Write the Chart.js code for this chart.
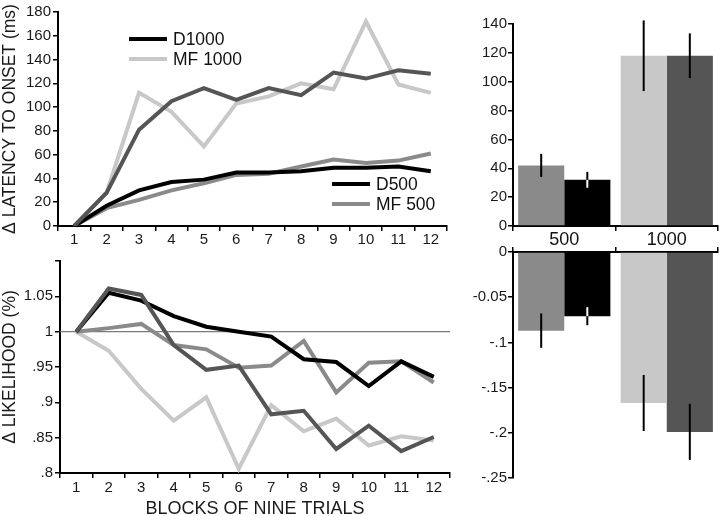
<!DOCTYPE html>
<html>
<head>
<meta charset="utf-8">
<script src="https://cdn.jsdelivr.net/npm/chart.js@4.4.0/dist/chart.umd.min.js"></script>
<style>
  html, body { margin: 0; padding: 0; background: #fff; }
  #wrap { position: relative; width: 720px; height: 516px; overflow: hidden; }
  canvas { position: absolute; }
</style>
</head>
<body>
<div id="wrap">
  <canvas id="latChart" width="460" height="250" style="left:0px;top:0px"></canvas>
  <canvas id="likeChart" width="460" height="266" style="left:0px;top:250px"></canvas>
  <canvas id="latBar" width="260" height="250" style="left:460px;top:0px"></canvas>
  <canvas id="likeBar" width="260" height="276" style="left:460px;top:240px"></canvas>
</div>
<script>
// blocks of nine trials
const blocks = ["1", "2", "3", "4", "5", "6", "7", "8", "9", "10", "11", "12"];

// delta latency to onset (ms)
const latD1000 = [0, 28, 81, 105, 116, 106, 116, 110, 129, 124, 131, 128];
const latMF1000 = [0, 28, 112, 96, 67, 103, 109, 120, 115, 172, 119, 112];
const latD500 = [0, 17, 30, 37, 39, 45, 45, 46, 49, 49, 50, 46];
const latMF500 = [0, 15, 22, 30, 36, 43, 44, 50, 56, 53, 55, 61];

// delta likelihood
const likeD1000 = [1, 1.061, 1.052, 0.981, 0.946, 0.952, 0.883, 0.888, 0.834, 0.867, 0.831, 0.851];
const likeMF1000 = [1, 0.973, 0.919, 0.874, 0.907, 0.806, 0.896, 0.859, 0.877, 0.839, 0.852, 0.846];
const likeD500 = [1, 1.055, 1.044, 1.022, 1.007, 1.0, 0.993, 0.961, 0.957, 0.923, 0.958, 0.936];
const likeMF500 = [1, 1.005, 1.011, 0.981, 0.975, 0.949, 0.952, 0.987, 0.914, 0.956, 0.958, 0.928];
const likeRef = 1;
const likeTicks = [".8", ".85", ".9", ".95", "1", "1.05", ""];

// bar summaries: groups 500 / 1000, first bar MF, second bar D
const groups = ["500", "1000"];
const latBarMF = [42, 118];
const latBarD = [32, 118];
const latErrMF = [8, 24.5];
const latErrD = [5.5, 15.5];
const likeBarMF = [-0.087, -0.167];
const likeBarD = [-0.071, -0.199];
const likeErrMF = [0.019, 0.031];
const likeErrD = [0.01, 0.031];
const likeBarTicks = ["-.25", "-.2", "-.15", "-.1", "-0.05", "0"];

const BLACK = "#000000", DARK = "#555555", MID = "#8a8a8a", LIGHT = "#c8c8c8";
const FONT = "'Liberation Sans', Arial, sans-serif";
Chart.defaults.font.family = FONT;
Chart.defaults.color = "#1a1a1a";

// legend blocks drawn at fixed spots
const lineLegend = {
  id: "lineLegend",
  afterDraw(chart, args, opts) {
    const ctx = chart.ctx;
    (opts.blocks || []).forEach((b) => {
      b.items.forEach((it, k) => {
        const y = b.y + k * 20;
        ctx.save();
        ctx.strokeStyle = it.color;
        ctx.lineWidth = 4;
        ctx.beginPath();
        ctx.moveTo(b.x, y);
        ctx.lineTo(b.x + 38, y);
        ctx.stroke();
        ctx.fillStyle = "#111";
        ctx.font = "17.5px " + FONT;
        ctx.textBaseline = "middle";
        ctx.fillText(it.label, b.x + 44, y + 1);
        ctx.restore();
      });
    });
  },
};

// thin line at the reference value
const refLine = {
  id: "refLine",
  beforeDatasetsDraw(chart, args, opts) {
    if (opts.value === undefined) return;
    const ctx = chart.ctx, a = chart.chartArea;
    const y = chart.scales.y.getPixelForValue(opts.value);
    ctx.save();
    ctx.strokeStyle = "#7a7a7a";
    ctx.lineWidth = 1.2;
    ctx.beginPath();
    ctx.moveTo(a.left, y);
    ctx.lineTo(a.right, y);
    ctx.stroke();
    ctx.restore();
  },
};

// error bars, white where they run inside a black bar
const errorBars = {
  id: "errorBars",
  afterDatasetsDraw(chart) {
    const ctx = chart.ctx, ys = chart.scales.y;
    chart.data.datasets.forEach((ds, i) => {
      const meta = chart.getDatasetMeta(i);
      meta.data.forEach((bar, j) => {
        const v = ds.data[j], e = ds.errors[j];
        const y1 = ys.getPixelForValue(v + e), y2 = ys.getPixelForValue(v - e);
        ctx.save();
        ctx.lineWidth = 2;
        ctx.strokeStyle = BLACK;
        ctx.beginPath();
        ctx.moveTo(bar.x, y1);
        ctx.lineTo(bar.x, y2);
        ctx.stroke();
        if (ds.backgroundColor[j] === BLACK) {
          const lo = Math.max(Math.min(y1, y2), Math.min(bar.y, bar.base));
          const hi = Math.min(Math.max(y1, y2), Math.max(bar.y, bar.base));
          if (hi > lo) {
            ctx.strokeStyle = "#ffffff";
            ctx.beginPath();
            ctx.moveTo(bar.x, lo);
            ctx.lineTo(bar.x, hi);
            ctx.stroke();
          }
        }
        ctx.restore();
      });
    });
  },
};

function lineSet(data, color) {
  return {
    data: data,
    borderColor: color,
    backgroundColor: color,
    borderWidth: 4,
    pointRadius: 0,
    tension: 0,
    fill: false,
  };
}

const axisGrid = { drawOnChartArea: false, color: BLACK, lineWidth: 1.5, tickLength: 5 };
const axisBorder = { color: BLACK, width: 2 };

new Chart(document.getElementById("latChart").getContext("2d"), {
  type: "line",
  data: {
    labels: blocks,
    datasets: [
      lineSet(latD1000, DARK),
      lineSet(latD500, BLACK),
      lineSet(latMF500, MID),
      lineSet(latMF1000, LIGHT),
    ],
  },
  options: {
    responsive: false,
    animation: false,
    layout: { padding: { left: 0, top: 12, right: 13, bottom: 0 } },
    plugins: {
      legend: { display: false },
      tooltip: { enabled: false },
      lineLegend: {
        blocks: [
          { x: 129, y: 39, items: [{ label: "D1000", color: BLACK }, { label: "MF 1000", color: LIGHT }] },
          { x: 332, y: 184, items: [{ label: "D500", color: BLACK }, { label: "MF 500", color: MID }] },
        ],
      },
    },
    scales: {
      x: {
        offset: true,
        grid: Object.assign({ offset: true }, axisGrid),
        border: axisBorder,
        ticks: { font: { size: 15, lineHeight: 1 }, padding: 1, maxRotation: 0 },
        afterFit: (s) => { s.height = 24; },
      },
      y: {
        min: 0,
        max: 180,
        grid: axisGrid,
        border: axisBorder,
        ticks: { stepSize: 20, font: { size: 15 }, padding: 2 },
        title: { display: true, text: "Δ LATENCY TO ONSET (ms)", font: { size: 17.5, lineHeight: 1 }, padding: { top: 1, bottom: 0 } },
        afterFit: (s) => { s.width = 58; },
      },
    },
  },
  plugins: [lineLegend],
});

new Chart(document.getElementById("likeChart").getContext("2d"), {
  type: "line",
  data: {
    labels: blocks,
    datasets: [
      lineSet(likeD1000, DARK),
      lineSet(likeD500, BLACK),
      lineSet(likeMF500, MID),
      lineSet(likeMF1000, LIGHT),
    ],
  },
  options: {
    responsive: false,
    animation: false,
    layout: { padding: { left: 0, top: 5, right: 10, bottom: 0 } },
    plugins: {
      legend: { display: false },
      tooltip: { enabled: false },
      refLine: { value: likeRef },
    },
    scales: {
      x: {
        offset: true,
        grid: Object.assign({ offset: true }, axisGrid),
        border: axisBorder,
        ticks: { font: { size: 15, lineHeight: 1 }, padding: 2, maxRotation: 0 },
        title: { display: true, text: "BLOCKS OF NINE TRIALS", font: { size: 18, lineHeight: 1 }, padding: { top: 0, bottom: -2 } },
        afterFit: (s) => { s.height = 43; },
      },
      y: {
        min: 0.8,
        max: 1.1,
        grid: axisGrid,
        border: axisBorder,
        ticks: { stepSize: 0.05, font: { size: 15 }, padding: 2, callback: (v, i) => likeTicks[i] },
        title: { display: true, text: "Δ LIKELIHOOD (%)", font: { size: 17.5, lineHeight: 1 }, padding: { top: 1, bottom: 0 } },
        afterFit: (s) => { s.width = 60; },
      },
    },
  },
  plugins: [refLine],
});

function barSet(data, colors, errors) {
  return {
    data: data,
    backgroundColor: colors,
    borderWidth: 0,
    errors: errors,
    barPercentage: 1,
    categoryPercentage: 0.9,
  };
}

new Chart(document.getElementById("latBar").getContext("2d"), {
  type: "bar",
  data: {
    labels: groups,
    datasets: [
      barSet(latBarMF, [MID, LIGHT], latErrMF),
      barSet(latBarD, [BLACK, DARK], latErrD),
    ],
  },
  options: {
    responsive: false,
    animation: false,
    layout: { padding: { left: 0, top: 24, right: 2, bottom: 0 } },
    plugins: { legend: { display: false }, tooltip: { enabled: false } },
    scales: {
      x: {
        grid: axisGrid,
        border: axisBorder,
        ticks: { font: { size: 18, lineHeight: 1 }, padding: 0, color: "#111" },
        afterFit: (s) => { s.height = 24; },
      },
      y: {
        min: 0,
        max: 140,
        grid: axisGrid,
        border: axisBorder,
        ticks: { stepSize: 20, font: { size: 15 }, padding: 1 },
        afterFit: (s) => { s.width = 53; },
      },
    },
  },
  plugins: [errorBars],
});

new Chart(document.getElementById("likeBar").getContext("2d"), {
  type: "bar",
  data: {
    labels: groups,
    datasets: [
      barSet(likeBarMF, [MID, LIGHT], likeErrMF),
      barSet(likeBarD, [BLACK, DARK], likeErrD),
    ],
  },
  options: {
    responsive: false,
    animation: false,
    layout: { padding: { left: 0, top: 0, right: 2, bottom: 38 } },
    plugins: { legend: { display: false }, tooltip: { enabled: false } },
    scales: {
      x: {
        position: "top",
        grid: axisGrid,
        border: axisBorder,
        ticks: { display: false },
        afterFit: (s) => { s.height = 12; },
      },
      y: {
        min: -0.25,
        max: 0,
        grid: axisGrid,
        border: axisBorder,
        ticks: { stepSize: 0.05, font: { size: 15 }, padding: 1, callback: (v, i) => likeBarTicks[i] },
        afterFit: (s) => { s.width = 53; },
      },
    },
  },
  plugins: [errorBars],
});
</script>
</body>
</html>
